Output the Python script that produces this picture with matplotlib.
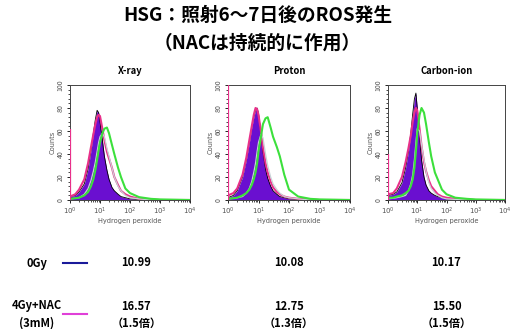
import matplotlib.pyplot as plt
from matplotlib.ticker import MultipleLocator, AutoMinorLocator, LogLocator, NullFormatter, FixedLocator

plt.rcParams['font.family'] = ['Noto Sans CJK JP', 'DejaVu Sans']

# channel positions (Hydrogen peroxide fluorescence), shared by all curves
intensity = [1, 1.5, 2, 3, 4, 5, 6, 7, 8, 9, 10, 12, 14, 17, 20, 25, 30, 40, 50, 70, 100, 200, 500, 1000, 10000]

panel_names = ['X-ray', 'Proton', 'Carbon-ion']

# counts
xray_0gy = [3, 4, 7, 14, 27, 43, 58, 70, 78, 76, 68, 52, 38, 26, 18, 11, 8, 5, 3, 2, 1, 0.5, 0, 0, 0]
xray_nac = [3, 5, 9, 18, 32, 46, 57, 66, 72, 74, 73, 62, 52, 42, 36, 28, 20, 13, 8, 5, 3, 1, 0.5, 0, 0]
xray_4gy = [1, 1.5, 2, 4, 7, 12, 18, 26, 35, 43, 50, 58, 62, 63, 58, 48, 40, 28, 20, 10, 6, 2.5, 1, 0.5, 0]
xray_other = [1, 1.5, 2, 5, 10, 17, 25, 33, 42, 50, 55, 58, 55, 45, 38, 28, 20, 12, 8, 4, 2, 1, 0, 0, 0]

proton_0gy = [2, 4, 8, 20, 35, 50, 63, 72, 78, 80, 75, 58, 42, 27, 19, 12, 8, 5, 3, 2, 1, 0.5, 0, 0, 0]
proton_nac = [4, 6, 10, 22, 37, 52, 64, 74, 80, 79, 74, 60, 46, 32, 24, 16, 11, 7, 5, 3, 2, 1, 0.5, 0, 0]
proton_4gy = [1, 1.5, 2, 4, 6, 9, 13, 18, 24, 32, 42, 55, 66, 71, 72, 63, 55, 46, 38, 22, 9, 3, 1, 0.5, 0]
proton_other = [1, 1.5, 2, 3, 6, 10, 16, 24, 32, 42, 50, 57, 54, 40, 30, 20, 14, 9, 6, 3, 2, 1, 0, 0, 0]

carbon_0gy = [4, 5, 7, 15, 28, 42, 58, 75, 88, 93, 80, 55, 35, 20, 13, 8, 6, 4, 3, 2, 1, 0.5, 0, 0, 0]
carbon_nac = [5, 6, 10, 20, 33, 45, 56, 68, 76, 80, 78, 62, 47, 33, 25, 17, 12, 8, 5, 3, 2, 1, 0.5, 0, 0]
carbon_4gy = [2, 2, 3, 4, 6, 8, 12, 18, 28, 42, 58, 74, 80, 76, 66, 50, 38, 24, 18, 9, 5, 2, 1, 0.5, 0]
carbon_other = [1, 1.5, 2, 3, 4, 8, 14, 22, 35, 50, 62, 60, 48, 35, 25, 15, 10, 6, 4, 2, 1, 0.5, 0, 0, 0]

# pile-up in the first channel (4Gy+NAC)
first_channel_nac = [62, 100, 40]

# mean fluorescence values
mean_0gy = ['10.99', '10.08', '10.17']
mean_nac = ['16.57', '12.75', '15.50']
fold_nac = ['1.5', '1.3', '1.5']

curves_0gy = [xray_0gy, proton_0gy, carbon_0gy]
curves_nac = [xray_nac, proton_nac, carbon_nac]
curves_4gy = [xray_4gy, proton_4gy, carbon_4gy]
curves_other = [xray_other, proton_other, carbon_other]

purple = '#6a0fd0'
magenta = '#e8308a'
green = '#3ce03c'

fig = plt.figure(figsize=(5.15, 3.29), dpi=100)

fig.text(0.5, 0.955, 'HSG：照射6～7日後のROS発生', ha='center', va='center',
         fontsize=13.5, fontweight='bold')
fig.text(0.5, 0.868, '（NACは持続的に作用）', ha='center', va='center',
         fontsize=13.5, fontweight='bold')

# axes boxes in pixels: left, right
boxes = [(70, 190), (228, 350), (388, 505)]
top_px, bot_px = 85, 200
W, H = 515, 329

for i, name in enumerate(panel_names):
    l, r = boxes[i]
    ax = fig.add_axes([l / W, 1 - bot_px / H, (r - l) / W, (bot_px - top_px) / H])

    ax.fill_between(intensity, curves_0gy[i], color=purple, lw=0, zorder=2)
    ax.plot(intensity, curves_0gy[i], color='black', lw=0.6, zorder=3)
    ax.plot(intensity, curves_nac[i], color=magenta, lw=1.5, zorder=4)
    ax.plot(intensity, curves_other[i], color='#c8d2d6', lw=0.9, zorder=5)
    ax.plot(intensity, curves_4gy[i], color=green, lw=1.5, zorder=6)
    ax.vlines(1.0, 0, first_channel_nac[i], color=magenta, lw=1.6, zorder=7)

    ax.set_xscale('log')
    ax.set_xlim(1, 10000)
    ax.set_ylim(0, 100)
    ax.xaxis.set_major_locator(FixedLocator([1, 10, 100, 1000, 10000]))
    ax.set_xticklabels(['$10^0$', '$10^1$', '$10^2$', '$10^3$', '$10^4$'])
    ax.xaxis.set_minor_locator(LogLocator(base=10, subs=range(2, 10)))
    ax.xaxis.set_minor_formatter(NullFormatter())
    ax.yaxis.set_major_locator(MultipleLocator(20))
    ax.yaxis.set_minor_locator(AutoMinorLocator(5))
    for lab in ax.get_yticklabels():
        lab.set_rotation(90)
        lab.set_va('center')
    ax.tick_params(axis='both', which='major', labelsize=5, length=2.5, width=0.6,
                   pad=1.5, labelcolor='#555555')
    ax.tick_params(axis='both', which='minor', length=1.5, width=0.5)
    for s in ax.spines.values():
        s.set_linewidth(0.7)
        s.set_color('#444444')
    ax.set_xlabel('Hydrogen peroxide', fontsize=4.8, labelpad=0.5, color='#555555', family='DejaVu Sans')
    ax.set_ylabel('Counts', fontsize=4.8, labelpad=0.5, color='#555555', family='DejaVu Sans')
    ax.set_title(name, fontsize=6.8, fontweight='bold', pad=8)

    cx = (l + r) / 2 / W + (0.012 if i == 0 else 0)
    fig.text(cx, 1 - 263 / H, mean_0gy[i], ha='center', va='center', fontsize=8, fontweight='bold')
    fig.text(cx, 1 - 306 / H, mean_nac[i], ha='center', va='center', fontsize=8, fontweight='bold')
    fig.text(cx, 1 - 323 / H, '（' + fold_nac[i] + '倍）', ha='center', va='center',
             fontsize=8, fontweight='bold')

# row labels and legend lines
fig.text(37 / W, 1 - 263 / H, '0Gy', ha='center', va='center', fontsize=8, fontweight='bold')
fig.text(37 / W, 1 - 306 / H, '4Gy+NAC', ha='center', va='center', fontsize=8, fontweight='bold')
fig.text(37 / W, 1 - 323 / H, '(3mM)', ha='center', va='center', fontsize=8, fontweight='bold')
fig.add_artist(plt.Line2D([63 / W, 87 / W], [1 - 263 / H, 1 - 263 / H], color='#1a1a9a', lw=1.5))
fig.add_artist(plt.Line2D([63 / W, 87 / W], [1 - 314 / H, 1 - 314 / H], color='#e040d8', lw=1.5))

fig.savefig('out.png', dpi=100)
